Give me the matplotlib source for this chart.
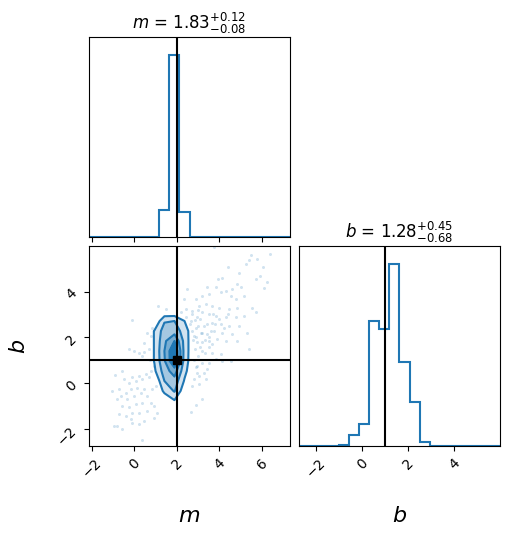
import numpy as np
import matplotlib
matplotlib.use("Agg")
import matplotlib.pyplot as plt
from matplotlib.colors import to_rgba, LinearSegmentedColormap

# parameters, ranges and truths
labels = ["$m$", "$b$"]
m_range = (-2.14, 7.32)
b_range = (-2.74, 5.99)
n_bins = 20
truth_m, truth_b = 2.0, 1.0
m_summary = (1.83, 0.08, 0.12)   # median, -err, +err
b_summary = (1.28, 0.68, 0.45)

# 1D marginal histograms (relative counts per bin index)
m_hist_idx = [7, 8, 9]
m_hist_val = [0.147, 1.0, 0.136]
b_hist_idx = [4, 5, 6, 7, 8, 9, 10, 11, 12]
b_hist_val = [0.0055, 0.061, 0.123, 0.69, 0.645, 1.0, 0.46, 0.24, 0.022]

# 2D histogram, rows = b bins 4..12 (bottom to top), cols = m bins 6..9
grid_b_idx = [4, 5, 6, 7, 8, 9, 10, 11, 12]
grid_m_idx = [6, 7, 8, 9]
grid_vals = [
    [0.0, 0.3, 0.9, 0.0],
    [0.0, 1.2, 2.1, 0.3],
    [0.0, 2.0, 2.6, 0.9],
    [0.8, 2.5, 3.5, 1.3],
    [1.05, 2.9, 5.0, 1.6],
    [1.05, 3.0, 5.0, 1.65],
    [1.05, 2.8, 4.0, 1.65],
    [1.05, 2.5, 2.5, 1.6],
    [0.0, 1.9, 2.0, 1.0],
]
contour_levels = [1.0, 2.0, 3.0, 4.0]

# samples shown as faint points
scatter_m = [
    -0.26, -0.02, 0.21, 0.45, 0.68, 0.37, -0.92, -0.57, -0.49, -0.26, -0.10, 0.06, 0.21, 0.37,
    0.53, 0.68, 0.13, -0.18, -0.42, -0.73, -0.65, -0.81, -1.04, -0.34, -0.02, 0.29, 0.45, 0.60,
    0.84, 1.0, 0.76, 0.92, 1.07, 0.37, 0.06, -0.26, -0.57, -0.73, -0.42, -0.10, 0.21, 0.60,
    -0.10, 0.21, 0.45, -0.81, -0.57, -0.96, 0.37, -0.18, 0.92, 1.0, 0.92, 0.8, 0.75,
    -0.13, 1.12, 1.50, 0.84, 0.76, 0.45, 2.49, 2.33, 2.41, 2.17, 2.41, 0.6, 0.9,
    2.85, 3.0, 3.2, 2.9, 3.1, 3.3, 2.8, 3.4, 2.95,
    3.19, 2.88, 2.64, 3.35, 3.04, 3.27, 2.80, 3.51, 3.82, 4.13, 4.53, 5.39, 2.96, 3.19, 3.66,
    4.06, 2.72, 3.04,
    3.74, 6.38, 5.47, 5.75, 5.39, 5.26, 6.05, 4.42, 5.92, 4.92, 4.13, 3.95, 6.22, 5.70, 4.84,
    4.99, 6.09, 3.82, 3.43, 4.60, 4.29, 4.06, 3.51, 3.19, 2.88, 4.53, 5.15, 4.76, 5.55, 4.84,
    4.45, 3.98, 3.66, 3.35, 3.04, 2.72, 5.70, 5.15, 4.76, 4.29, 3.82, 3.51, 3.19, 2.96, 2.64,
    4.92, 4.45, 4.06, 3.66, 3.27, 2.88, 5.31, 4.60, 4.13, 3.74, 3.43, 3.11, 2.80, 4.29, 3.90,
    3.51, 3.19, 4.84, 2.96, 3.66,
    2.7, 2.75, 3.0, 3.2, 3.4, 3.6, 3.8, 3.3, 3.5, 2.9, 3.1, 3.7, 4.0, 2.6, 2.7, 3.0, 2.85,
    3.5, 4.2, 4.4,
]
scatter_b = [
    1.48, 1.41, 1.34, 1.37, 1.51, 1.19, 0.35, 0.54, 0.17, 0.03, 0.25, 0.10, 0.32, 0.17,
    0.39, 0.25, -0.19, -0.26, -0.41, -0.26, -0.55, -0.70, -0.34, -0.70, -0.55, -0.41, -0.26, -0.55,
    -0.26, -0.12, -0.85, -0.99, -1.28, -0.85, -0.92, -1.06, -0.99, -1.35, -1.43, -1.28, -1.28, -1.21,
    -1.72, -1.79, -1.65, -1.86, -2.01, -1.86, -2.49, -1.57, -1.50, 1.19, 0.76, 0.55, 1.0,
    2.76, 3.35, 3.23, 2.43, 2.07, 1.77, 4.10, 3.67, 3.23, 3.09, 2.87, 2.2, 1.75,
    1.5, 1.2, 0.9, 0.7, 1.6, 1.3, 1.0, 0.6, 0.45,
    -0.70, -0.96, -1.25, 0.17, 0.32, 0.46, 0.17, 0.90, 1.05, 0.97, 0.97, 1.48, 0.76, 1.41, 1.34,
    1.27, -0.12, -0.05,
    5.95, 5.65, 5.60, 5.44, 5.37, 5.20, 5.09, 5.09, 4.69, 4.83, 4.61, 4.54, 4.42, 4.54, 4.32,
    4.18, 4.15, 4.18, 4.18, 4.10, 4.03, 3.96, 3.89, 3.81, 3.67, 3.81, 3.81, 3.67, 3.30, 3.30,
    3.23, 3.30, 3.38, 3.45, 3.38, 3.16, 3.09, 2.94, 2.87, 2.87, 2.94, 3.01, 3.09, 2.87, 2.72,
    2.50, 2.50, 2.58, 2.65, 2.50, 2.43, 2.21, 2.14, 2.21, 2.28, 2.14, 2.21, 2.07, 1.85, 1.92,
    1.85, 1.78, 1.85, 1.78, 1.69,
    2.3, 1.9, 2.5, 2.2, 2.6, 2.3, 2.6, 1.9, 1.6, 2.0, 2.8, 3.0, 2.8, 2.6, 3.0, 3.2, 2.75,
    2.0, 2.4, 3.0,
]

color = "#1f77b4"
m_edges = np.linspace(m_range[0], m_range[1], n_bins + 1)
b_edges = np.linspace(b_range[0], b_range[1], n_bins + 1)
m_cent = 0.5 * (m_edges[1:] + m_edges[:-1])
b_cent = 0.5 * (b_edges[1:] + b_edges[:-1])

m_counts = np.zeros(n_bins)
m_counts[m_hist_idx] = m_hist_val
b_counts = np.zeros(n_bins)
b_counts[b_hist_idx] = b_hist_val

H = np.zeros((n_bins, n_bins))  # [m, b]
for r, bi in enumerate(grid_b_idx):
    for c, mi in enumerate(grid_m_idx):
        H[mi, bi] = grid_vals[r][c]

fig = plt.figure(figsize=(5.09, 5.35), dpi=100)
ax_m = fig.add_axes([0.1749, 0.5570, 0.3949, 0.3738])
ax_2d = fig.add_axes([0.1749, 0.1664, 0.3949, 0.3738])
ax_b = fig.add_axes([0.5874, 0.1664, 0.3949, 0.3738])

m_ticks = [-2, 0, 2, 4, 6]
b_ticks = [-2, 0, 2, 4]

# m marginal
ax_m.hist(m_cent, bins=m_edges, weights=m_counts, histtype="step", color=color, lw=1.5)
ax_m.axvline(truth_m, color="k", lw=1.5)
ax_m.set_xlim(m_range)
ax_m.set_ylim(0, 1.1 * m_counts.max())
ax_m.set_yticks([])
ax_m.set_xticks(m_ticks)
ax_m.set_xticklabels([])
ax_m.set_title(r"{0} = ${1:.2f}_{{-{2:.2f}}}^{{+{3:.2f}}}$".format(labels[0], *m_summary), fontsize=12)

# b marginal
ax_b.hist(b_cent, bins=b_edges, weights=b_counts, histtype="step", color=color, lw=1.5)
ax_b.axvline(truth_b, color="k", lw=1.5)
ax_b.set_xlim(b_range)
ax_b.set_ylim(0, 1.1 * b_counts.max())
ax_b.set_yticks([])
ax_b.set_xticks(b_ticks)
ax_b.set_title(r"{0} = ${1:.2f}_{{-{2:.2f}}}^{{+{3:.2f}}}$".format(labels[1], *b_summary), fontsize=12)
for lab in ax_b.get_xticklabels():
    lab.set_rotation(45)
ax_b.set_xlabel(labels[1], fontsize=16)
ax_b.xaxis.set_label_coords(0.5, -0.3)

# 2D panel
ax_2d.plot(scatter_m, scatter_b, "o", color=color, ms=2.2, mec="none", alpha=0.2, zorder=-1)
white = LinearSegmentedColormap.from_list("white_cmap", [(1, 1, 1), (1, 1, 1)], N=2)
ax_2d.contourf(m_cent, b_cent, H.T, [contour_levels[0], H.max()], cmap=white, antialiased=False)
rgba = to_rgba(color)
fills = [list(rgba) for _ in contour_levels] + [list(rgba)]
for i in range(len(contour_levels)):
    fills[i][-1] *= float(i) / (len(contour_levels) + 1)
ax_2d.contourf(m_cent, b_cent, H.T, [0] + contour_levels + [H.max() * 1.0001],
               colors=fills, antialiased=False)
ax_2d.contour(m_cent, b_cent, H.T, contour_levels, colors=color, linewidths=1.5)
ax_2d.axvline(truth_m, color="k", lw=1.5)
ax_2d.axhline(truth_b, color="k", lw=1.5)
ax_2d.plot(truth_m, truth_b, "s", color="k", ms=6)
ax_2d.set_xlim(m_range)
ax_2d.set_ylim(b_range)
ax_2d.set_xticks(m_ticks)
ax_2d.set_yticks(b_ticks)
for lab in ax_2d.get_xticklabels() + ax_2d.get_yticklabels():
    lab.set_rotation(45)
ax_2d.set_xlabel(labels[0], fontsize=16)
ax_2d.set_ylabel(labels[1], fontsize=16)
ax_2d.xaxis.set_label_coords(0.5, -0.3)
ax_2d.yaxis.set_label_coords(-0.3, 0.5)

fig.savefig("out.png", dpi=100, facecolor="white")
